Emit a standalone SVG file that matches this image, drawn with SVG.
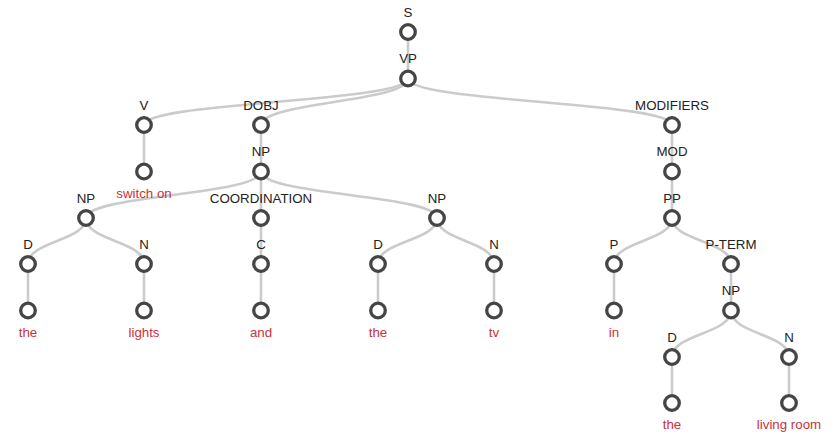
<svg xmlns="http://www.w3.org/2000/svg" width="833" height="432" viewBox="0 0 833 432">
<style>
.e{fill:none;stroke:#cbcbcb;stroke-width:2.6}
.n{fill:#fff;stroke:#454545;stroke-width:3.3}
.l{font-family:"Liberation Sans",Arial,sans-serif;font-size:13.3px;fill:#222;text-anchor:middle}
.w{font-family:"Liberation Sans",Arial,sans-serif;font-size:13.3px;fill:#c8323b;text-anchor:middle}
</style>
<rect width="833" height="432" fill="#fff"/>
<g id="connectors">
<path class="e" d="M408,32 C408,55 408,55 408,78.5"/>
<path class="e" d="M408,78.5 C408,102 144,102 144,125"/>
<path class="e" d="M408,78.5 C408,102 261,102 261,125"/>
<path class="e" d="M408,78.5 C408,102 672,102 672,125"/>
<path class="e" d="M144,125 L144,171.5"/>
<path class="e" d="M261,125 L261,171.5"/>
<path class="e" d="M672,125 L672,171.5"/>
<path class="e" d="M261,171.5 C261,195 86,195 86,218"/>
<path class="e" d="M261,171.5 L261,218"/>
<path class="e" d="M261,171.5 C261,195 437,195 437,218"/>
<path class="e" d="M672,171.5 L672,218"/>
<path class="e" d="M86,218 C86,241 28,241 28,264"/>
<path class="e" d="M86,218 C86,241 144,241 144,264"/>
<path class="e" d="M261,218 L261,264"/>
<path class="e" d="M437,218 C437,241 378,241 378,264"/>
<path class="e" d="M437,218 C437,241 494,241 494,264"/>
<path class="e" d="M672,218 C672,241 614,241 614,264"/>
<path class="e" d="M672,218 C672,241 731,241 731,264"/>
<path class="e" d="M28,264 L28,310.5"/>
<path class="e" d="M144,264 L144,310.5"/>
<path class="e" d="M261,264 L261,310.5"/>
<path class="e" d="M378,264 L378,310.5"/>
<path class="e" d="M494,264 L494,310.5"/>
<path class="e" d="M614,264 L614,310.5"/>
<path class="e" d="M731,264 L731,310.5"/>
<path class="e" d="M731,310.5 C731,334 672,334 672,357"/>
<path class="e" d="M731,310.5 C731,334 789,334 789,357"/>
<path class="e" d="M672,357 L672,403"/>
<path class="e" d="M789,357 L789,403"/>
</g>
<g id="n-S"><circle class="n" cx="408" cy="32" r="7.3"/><text class="l" x="408" y="16.5">S</text></g>
<g id="n-VP"><circle class="n" cx="408" cy="78.5" r="7.3"/><text class="l" x="408" y="63">VP</text></g>
<g id="n-V"><circle class="n" cx="144" cy="125" r="7.3"/><text class="l" x="144" y="109.5">V</text></g>
<g id="n-DOBJ"><circle class="n" cx="261" cy="125" r="7.3"/><text class="l" x="261" y="109.5">DOBJ</text></g>
<g id="n-MODIFIERS"><circle class="n" cx="672" cy="125" r="7.3"/><text class="l" x="672" y="109.5">MODIFIERS</text></g>
<g id="w-switchon"><circle class="n" cx="144" cy="171.5" r="7.3"/><text class="w" x="144" y="197.5">switch on</text></g>
<g id="n-NP0"><circle class="n" cx="261" cy="171.5" r="7.3"/><text class="l" x="261" y="156">NP</text></g>
<g id="n-MOD"><circle class="n" cx="672" cy="171.5" r="7.3"/><text class="l" x="672" y="156">MOD</text></g>
<g id="n-NP1"><circle class="n" cx="86" cy="218" r="7.3"/><text class="l" x="86" y="202.5">NP</text></g>
<g id="n-COORDINATION"><circle class="n" cx="261" cy="218" r="7.3"/><text class="l" x="261" y="202.5">COORDINATION</text></g>
<g id="n-NP2"><circle class="n" cx="437" cy="218" r="7.3"/><text class="l" x="437" y="202.5">NP</text></g>
<g id="n-PP"><circle class="n" cx="672" cy="218" r="7.3"/><text class="l" x="672" y="202.5">PP</text></g>
<g id="n-D1"><circle class="n" cx="28" cy="264" r="7.3"/><text class="l" x="28" y="248.5">D</text></g>
<g id="n-N1"><circle class="n" cx="144" cy="264" r="7.3"/><text class="l" x="144" y="248.5">N</text></g>
<g id="n-C"><circle class="n" cx="261" cy="264" r="7.3"/><text class="l" x="261" y="248.5">C</text></g>
<g id="n-D2"><circle class="n" cx="378" cy="264" r="7.3"/><text class="l" x="378" y="248.5">D</text></g>
<g id="n-N2"><circle class="n" cx="494" cy="264" r="7.3"/><text class="l" x="494" y="248.5">N</text></g>
<g id="n-P"><circle class="n" cx="614" cy="264" r="7.3"/><text class="l" x="614" y="248.5">P</text></g>
<g id="n-PTERM"><circle class="n" cx="731" cy="264" r="7.3"/><text class="l" x="731" y="248.5">P-TERM</text></g>
<g id="w-the1"><circle class="n" cx="28" cy="310.5" r="7.3"/><text class="w" x="28" y="336.5">the</text></g>
<g id="w-lights"><circle class="n" cx="144" cy="310.5" r="7.3"/><text class="w" x="144" y="336.5">lights</text></g>
<g id="w-and"><circle class="n" cx="261" cy="310.5" r="7.3"/><text class="w" x="261" y="336.5">and</text></g>
<g id="w-the2"><circle class="n" cx="378" cy="310.5" r="7.3"/><text class="w" x="378" y="336.5">the</text></g>
<g id="w-tv"><circle class="n" cx="494" cy="310.5" r="7.3"/><text class="w" x="494" y="336.5">tv</text></g>
<g id="w-in"><circle class="n" cx="614" cy="310.5" r="7.3"/><text class="w" x="614" y="336.5">in</text></g>
<g id="n-NP3"><circle class="n" cx="731" cy="310.5" r="7.3"/><text class="l" x="731" y="295">NP</text></g>
<g id="n-D3"><circle class="n" cx="672" cy="357" r="7.3"/><text class="l" x="672" y="341.5">D</text></g>
<g id="n-N3"><circle class="n" cx="789" cy="357" r="7.3"/><text class="l" x="789" y="341.5">N</text></g>
<g id="w-the3"><circle class="n" cx="672" cy="403" r="7.3"/><text class="w" x="672" y="429">the</text></g>
<g id="w-livingroom"><circle class="n" cx="789" cy="403" r="7.3"/><text class="w" x="789" y="429">living room</text></g>
</svg>
